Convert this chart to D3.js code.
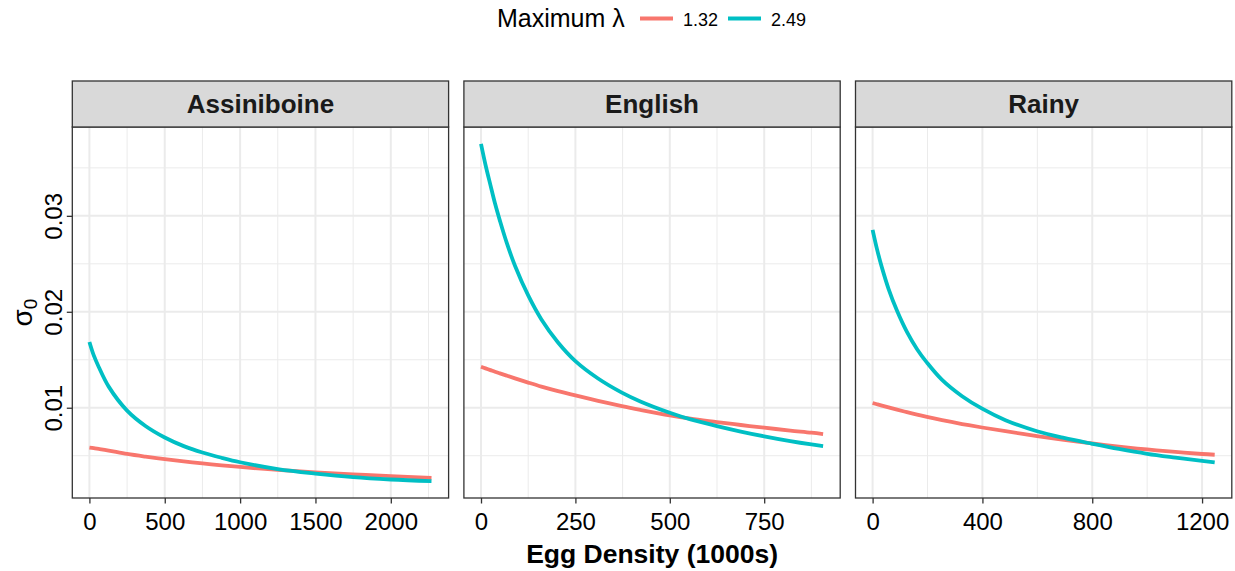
<!DOCTYPE html>
<html>
<head>
<meta charset="utf-8">
<script src="https://cdn.jsdelivr.net/npm/d3@7"></script>
<style>
  html, body { margin: 0; padding: 0; background: #fff; }
  svg { display: block; font-family: "Liberation Sans", Arial, Helvetica, sans-serif; }
</style>
</head>
<body>
<svg id="chart" width="1235" height="571"></svg>
<script>
// ---------------- DATA ----------------
const facets = ["Assiniboine", "English", "Rainy"];
const lambdaLevels = ["1.32", "2.49"];
const legendTitle = "Maximum λ";
const xTitle = "Egg Density (1000s)";

const assiniboineX    = [0, 29, 62, 128, 250, 372, 500, 626, 750, 878, 1000, 1250, 1500, 1750, 2000, 2270];
const assiniboineLow  = [0.00585, 0.00578, 0.0057, 0.00553, 0.00518, 0.0049, 0.00464, 0.0044, 0.00419, 0.004, 0.00383, 0.00352, 0.00327, 0.00306, 0.00288, 0.0027];
const assiniboineHigh = [0.01685, 0.01545, 0.01425, 0.0122, 0.0097, 0.0081, 0.0069, 0.006, 0.00533, 0.00478, 0.00432, 0.0036, 0.00313, 0.00276, 0.00252, 0.00235];

const englishX    = [0, 12, 25, 37, 50, 68, 90, 125, 160, 204, 250, 310, 373, 422, 500, 555, 625, 688, 750, 819, 875, 906];
const englishLow  = [0.01427, 0.0141, 0.01392, 0.01375, 0.01358, 0.01335, 0.01306, 0.01262, 0.0122, 0.01173, 0.01128, 0.01072, 0.01017, 0.00978, 0.0092, 0.00886, 0.00851, 0.0082, 0.00792, 0.00762, 0.0074, 0.00725];
const englishHigh = [0.0375, 0.0353, 0.0332, 0.0313, 0.0295, 0.0272, 0.0248, 0.0217, 0.0192, 0.0168, 0.01486, 0.01305, 0.01158, 0.01066, 0.00948, 0.00878, 0.00809, 0.00752, 0.00702, 0.00652, 0.00617, 0.006];

const rainyX    = [0, 16, 34, 58, 89, 125, 162, 198, 253, 326, 399, 484, 599, 697, 800, 897, 1000, 1103, 1200, 1246];
const rainyLow  = [0.01049, 0.01036, 0.01022, 0.01003, 0.0098, 0.00954, 0.00928, 0.00904, 0.0087, 0.0083, 0.00794, 0.00755, 0.00705, 0.00665, 0.00628, 0.00595, 0.00565, 0.0054, 0.00518, 0.0051];
const rainyHigh = [0.02854, 0.02653, 0.0246, 0.0224, 0.0201, 0.0179, 0.0161, 0.0147, 0.0129, 0.0112, 0.0099, 0.0087, 0.00755, 0.00685, 0.00624, 0.0057, 0.0052, 0.0048, 0.00445, 0.0043];

const assiniboineTicks = [0, 500, 1000, 1500, 2000];
const englishTicks = [0, 250, 500, 750];
const rainyTicks = [0, 400, 800, 1200];
const yTicks = [0.01, 0.02, 0.03];
const yMinorTicks = [0.005, 0.015, 0.025, 0.035];

// ---------------- LAYOUT / STYLE ----------------
const colors = ["#F8766D", "#00BFC4"];
const panelTop = 127, panelBottom = 498, stripTop = 81;
const panelLeft0 = 72.3, panelWidth = 376.3, panelGap = 15.3;
const fontFam = '"Liberation Sans", Arial, Helvetica, sans-serif';

const facetData = [
  { name: facets[0], x: assiniboineX, series: [assiniboineLow, assiniboineHigh], ticks: assiniboineTicks },
  { name: facets[1], x: englishX, series: [englishLow, englishHigh], ticks: englishTicks },
  { name: facets[2], x: rainyX, series: [rainyLow, rainyHigh], ticks: rainyTicks }
];

function expand(ext, m = 0.05) {
  const r = ext[1] - ext[0];
  return [ext[0] - r * m, ext[1] + r * m];
}

const allY = facetData.flatMap(f => f.series.flat());
const y = d3.scaleLinear().domain(expand(d3.extent(allY))).range([panelBottom, panelTop]);

const svg = d3.select("#chart");
svg.append("rect").attr("width", 1235).attr("height", 571).attr("fill", "#fff");

facetData.forEach((f, i) => {
  const left = panelLeft0 + i * (panelWidth + panelGap);
  const right = left + panelWidth;
  const x = d3.scaleLinear().domain(expand(d3.extent(f.x))).range([left, right]);

  const g = svg.append("g");
  g.append("rect").attr("x", left).attr("y", panelTop).attr("width", panelWidth)
    .attr("height", panelBottom - panelTop).attr("fill", "#fff");

  // minor grid (midpoints)
  const step = f.ticks[1] - f.ticks[0];
  const [d0, d1] = x.domain();
  const minorX = d3.range(f.ticks[0] - step / 2, d1, step).filter(v => v > d0 && v < d1);
  g.selectAll(".mx").data(minorX).join("line")
    .attr("x1", d => x(d)).attr("x2", d => x(d)).attr("y1", panelTop).attr("y2", panelBottom)
    .attr("stroke", "#EBEBEB").attr("stroke-width", 1);
  g.selectAll(".my").data(yMinorTicks).join("line")
    .attr("x1", left).attr("x2", right).attr("y1", d => y(d)).attr("y2", d => y(d))
    .attr("stroke", "#EBEBEB").attr("stroke-width", 1);
  // major grid
  g.selectAll(".Mx").data(f.ticks).join("line")
    .attr("x1", d => x(d)).attr("x2", d => x(d)).attr("y1", panelTop).attr("y2", panelBottom)
    .attr("stroke", "#EBEBEB").attr("stroke-width", 2);
  g.selectAll(".My").data(yTicks).join("line")
    .attr("x1", left).attr("x2", right).attr("y1", d => y(d)).attr("y2", d => y(d))
    .attr("stroke", "#EBEBEB").attr("stroke-width", 2);

  // lines
  const line = d3.line().x(d => x(d[0])).y(d => y(d[1])).curve(d3.curveCatmullRom.alpha(0.5));
  f.series.forEach((s, k) => {
    const pts = f.x.map((xv, j) => [xv, s[j]]);
    g.append("path").datum(pts).attr("d", line).attr("fill", "none")
      .attr("stroke", colors[k]).attr("stroke-width", 3.8).attr("stroke-linecap", "butt")
      .attr("stroke-linejoin", "round");
  });

  // panel border
  g.append("rect").attr("x", left).attr("y", panelTop).attr("width", panelWidth)
    .attr("height", panelBottom - panelTop).attr("fill", "none")
    .attr("stroke", "#333333").attr("stroke-width", 1.3);

  // strip
  g.append("rect").attr("x", left).attr("y", stripTop).attr("width", panelWidth)
    .attr("height", panelTop - stripTop).attr("fill", "#D9D9D9")
    .attr("stroke", "#333333").attr("stroke-width", 1.3);
  g.append("text").attr("x", (left + right) / 2).attr("y", 113)
    .attr("text-anchor", "middle").attr("font-size", 26).attr("font-weight", "bold")
    .attr("fill", "#1A1A1A").text(f.name);

  // x axis
  const xAxis = d3.axisBottom(x).tickValues(f.ticks).tickSize(5.5).tickPadding(5).tickFormat(d3.format("d"));
  const ax = svg.append("g").attr("transform", `translate(0,${panelBottom})`).call(xAxis);
  ax.select(".domain").remove();
  ax.selectAll(".tick line").attr("stroke", "#333333").attr("stroke-width", 1.3);
  ax.selectAll(".tick text").attr("font-size", 24).attr("fill", "#000")
    .attr("font-family", fontFam).attr("dy", null).attr("y", 32);

  // y axis on first panel only
  if (i === 0) {
    const yAxis = d3.axisLeft(y).tickValues(yTicks).tickSize(5.5).tickFormat(d3.format(".2f"));
    const ay = svg.append("g").attr("transform", `translate(${left},0)`).call(yAxis);
    ay.select(".domain").remove();
    ay.selectAll(".tick line").attr("stroke", "#333333").attr("stroke-width", 1.3);
    ay.selectAll(".tick text").attr("font-size", 24).attr("fill", "#000")
      .attr("font-family", fontFam)
      .attr("x", null).attr("dy", null)
      .attr("text-anchor", "middle")
      .attr("transform", "translate(-10,0) rotate(-90)");
  }
});

// y axis title σ0
const yt = svg.append("text").attr("transform", `translate(32,${(panelTop + panelBottom) / 2}) rotate(-90)`)
  .attr("text-anchor", "middle").attr("font-size", 28).attr("fill", "#000");
yt.append("tspan").text("σ");
yt.append("tspan").attr("font-size", 19).attr("dy", 5).text("0");

// x axis title
const midX = (panelLeft0 + panelLeft0 + 3 * panelWidth + 2 * panelGap) / 2;
svg.append("text").attr("x", midX).attr("y", 563).attr("text-anchor", "middle")
  .attr("font-size", 26.5).attr("font-weight", "bold").attr("fill", "#000").text(xTitle);

// legend
const lg = svg.append("g");
lg.append("text").attr("x", 497).attr("y", 27).attr("font-size", 25).attr("fill", "#000").text(legendTitle);
const keyX = [640, 728];
lambdaLevels.forEach((lv, k) => {
  lg.append("line").attr("x1", keyX[k]).attr("x2", keyX[k] + 33).attr("y1", 18.5).attr("y2", 18.5)
    .attr("stroke", colors[k]).attr("stroke-width", 3.8);
  lg.append("text").attr("x", keyX[k] + 43).attr("y", 25.5).attr("font-size", 18).attr("fill", "#000").text(lv);
});
</script>
</body>
</html>
